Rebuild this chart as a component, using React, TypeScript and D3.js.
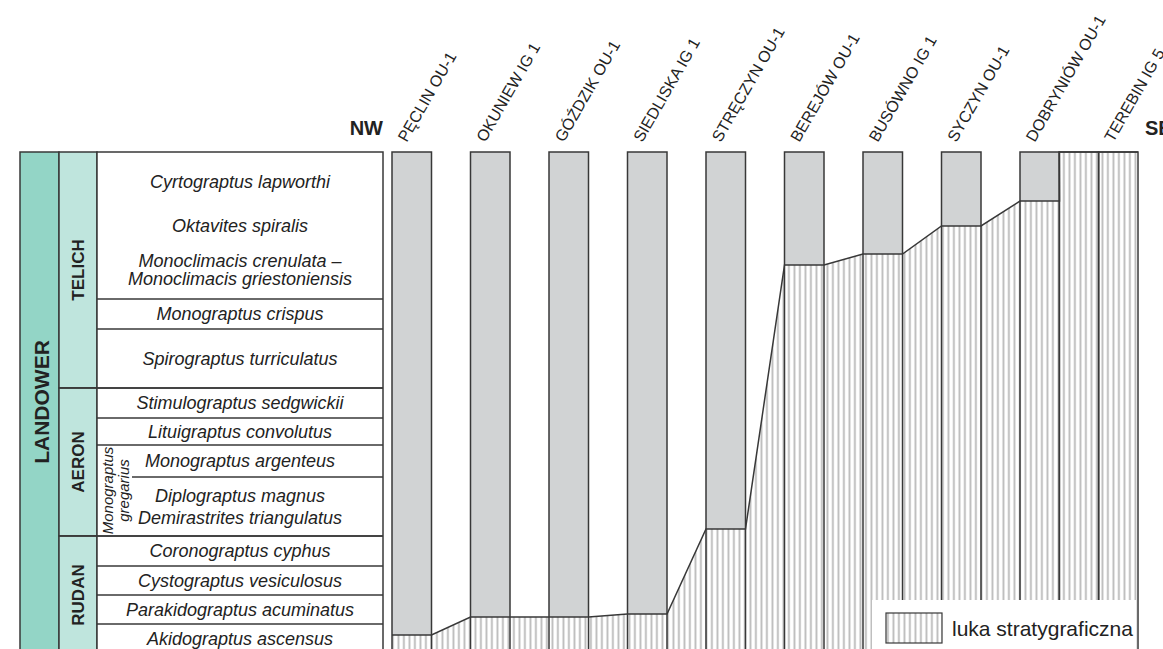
import React from "react";
import * as d3 from "d3";

// ---- data ----
const wellNames = [
  "PĘCLIN OU-1",
  "OKUNIEW IG 1",
  "GÓŹDZIK OU-1",
  "SIEDLISKA IG 1",
  "STRĘCZYN OU-1",
  "BEREJÓW OU-1",
  "BUSÓWNO IG 1",
  "SYCZYN OU-1",
  "DOBRYNIÓW OU-1",
  "",
  "TEREBIN IG 5",
];
// stratigraphic level (from top of Telich) where the hiatus begins in each well
const hiatusTop = [483, 465, 465, 462, 377, 113, 102, 74, 49, 0, 0];

const zoneNames = [
  ["Cyrtograptus lapworthi"],
  ["Oktavites spiralis"],
  ["Monoclimacis crenulata –", "Monoclimacis griestoniensis"],
  ["Monograptus crispus"],
  ["Spirograptus turriculatus"],
  ["Stimulograptus sedgwickii"],
  ["Lituigraptus convolutus"],
  ["Monograptus argenteus"],
  ["Diplograptus magnus", "Demirastrites triangulatus"],
  ["Coronograptus cyphus"],
  ["Cystograptus vesiculosus"],
  ["Parakidograptus acuminatus"],
  ["Akidograptus ascensus"],
];
const zoneTops = [0, 60, 88, 147, 177, 236, 266, 293, 325, 384, 414, 443, 472];
const sectionBase = 502;
const stageNames = ["TELICH", "AERON", "RUDAN"];
const stageTops = [0, 236, 384];
const seriesName = "LANDOWER";
const gregariusLines = ["Monograptus", "gregarius"];
const gregariusRange = [293, 384];
const legendLabel = "luka stratygraficzna";

// ---- layout ----
const W = 1163;
const H = 649;
const FONT = "'Liberation Sans', Arial, Helvetica, sans-serif";
const INK = "#383838";
const GREY = "#d1d3d4";
const SERIES_FILL = "#93d5c6";
const STAGE_FILL = "#bfe5dd";
const slot = [0, 1, 2, 3, 4, 5, 6, 7, 8, 8.5, 9];
const hiddenBoundaries = new Set([1, 2]);
const lineGap: Record<number, number> = { 2: 18, 8: 22 };

export default function App() {
  const y = d3.scaleLinear().domain([0, sectionBase]).range([152, 654]);
  const x = d3.scaleLinear().domain([0, 9]).range([392, 1098.5]);
  const colW = 39.5;
  const xSeries = [20, 59];
  const xStage = [59, 97];
  const xZone = [97, 383];
  const zoneCx = 240;

  const bottom = y(sectionBase);
  const cols = wellNames.map((name, i) => ({
    name,
    x0: x(slot[i]),
    x1: x(slot[i]) + colW,
    gapY: y(hiatusTop[i]),
  }));

  // boundary polyline of hiatus
  const pts: [number, number][] = [];
  cols.forEach((c) => {
    pts.push([c.x0, c.gapY]);
    pts.push([c.x1, c.gapY]);
  });
  const line = d3.line();
  const area = d3
    .area()
    .x((d) => d[0])
    .y0(bottom + 10)
    .y1((d) => d[1]);

  const zoneBottoms = zoneTops.map((t, i) =>
    i < zoneTops.length - 1 ? zoneTops[i + 1] : sectionBase
  );
  const stageBottoms = stageTops.map((t, i) =>
    i < stageTops.length - 1 ? stageTops[i + 1] : sectionBase
  );

  const gregCy = (y(gregariusRange[0]) + y(gregariusRange[1])) / 2;

  return (
    <svg
      width={W}
      height={H}
      style={{ position: "absolute", left: 0, top: 0, background: "#fff" }}
      fontFamily={FONT}
    >
      <defs>
        <pattern
          id="hatch"
          patternUnits="userSpaceOnUse"
          width={5.5}
          height={10}
        >
          <rect x={0} y={0} width={5.5} height={10} fill="#fff" />
          <rect x={1.5} y={0} width={1.8} height={10} fill="#b9b9b9" />
        </pattern>
      </defs>

      {/* Series column */}
      <rect
        x={xSeries[0]}
        y={y(0)}
        width={xSeries[1] - xSeries[0]}
        height={bottom - y(0)}
        fill={SERIES_FILL}
        stroke={INK}
        strokeWidth={1.5}
      />
      <text
        transform={`translate(49,402) rotate(-90)`}
        textAnchor="middle"
        fontWeight="bold"
        fontSize={21}
        fill="#222"
      >
        {seriesName}
      </text>

      {/* Stage column */}
      {stageNames.map((s, i) => {
        const y0 = y(stageTops[i]);
        const y1 = y(stageBottoms[i]);
        return (
          <g key={s}>
            <rect
              x={xStage[0]}
              y={y0}
              width={xStage[1] - xStage[0]}
              height={y1 - y0}
              fill={STAGE_FILL}
              stroke={INK}
              strokeWidth={1.5}
            />
            <text
              transform={`translate(84,${(y0 + y1) / 2}) rotate(-90)`}
              textAnchor="middle"
              fontWeight="bold"
              fontSize={17}
              fill="#222"
            >
              {s}
            </text>
          </g>
        );
      })}

      {/* Zone column */}
      <rect
        x={xZone[0]}
        y={y(0)}
        width={xZone[1] - xZone[0]}
        height={bottom - y(0)}
        fill="#fff"
        stroke={INK}
        strokeWidth={1.5}
      />
      {zoneTops.map((t, i) => {
        if (i === 0 || hiddenBoundaries.has(i)) return null;
        const startX = zoneTops[i] === gregariusRange[0] + 32 ? 132 : xZone[0];
        return (
          <line
            key={"zl" + i}
            x1={startX}
            x2={xZone[1]}
            y1={y(t)}
            y2={y(t)}
            stroke={INK}
            strokeWidth={1.5}
          />
        );
      })}
      {stageTops.slice(1).map((t, i) => (
        <line
          key={"sl" + i}
          x1={xStage[0]}
          x2={xZone[1]}
          y1={y(t)}
          y2={y(t)}
          stroke={INK}
          strokeWidth={1.5}
        />
      ))}
      {zoneNames.map((lines, i) => {
        const cy = (y(zoneTops[i]) + y(zoneBottoms[i])) / 2;
        const gap = lineGap[i] ?? 19;
        return lines.map((l, j) => (
          <text
            key={"zt" + i + "_" + j}
            x={zoneCx}
            y={cy + (j - (lines.length - 1) / 2) * gap + 6.3}
            textAnchor="middle"
            fontStyle="italic"
            fontSize={18}
            fill="#222"
          >
            {l}
          </text>
        ));
      })}
      {gregariusLines.map((l, j) => (
        <text
          key={"greg" + j}
          transform={`translate(${112.5 + j * 16},${gregCy}) rotate(-90)`}
          textAnchor="middle"
          fontStyle="italic"
          fontSize={15}
          fill="#222"
        >
          {l}
        </text>
      ))}

      {/* hatched hiatus area */}
      <path
        d={area([[cols[0].x0, pts[0][1]], ...pts, [cols[cols.length - 1].x1, y(0)]]) || ""}
        fill="url(#hatch)"
      />

      {/* grey well columns */}
      {cols.map((c, i) =>
        c.gapY > y(0) ? (
          <rect
            key={"g" + i}
            x={c.x0}
            y={y(0)}
            width={colW}
            height={c.gapY - y(0)}
            fill={GREY}
          />
        ) : null
      )}
      {cols.map((c, i) => (
        <rect
          key={"o" + i}
          x={c.x0}
          y={y(0)}
          width={colW}
          height={bottom - y(0)}
          fill="none"
          stroke={INK}
          strokeWidth={1.5}
        />
      ))}
      <path d={line(pts) || ""} fill="none" stroke={INK} strokeWidth={1.5} />

      {/* well names */}
      {cols.map((c, i) =>
        c.name ? (
          <text
            key={"n" + i}
            transform={`translate(${(c.x0 + c.x1) / 2 - 5},143) rotate(-60)`}
            fontSize={16}
            fill="#222"
          >
            {c.name}
          </text>
        ) : null
      )}

      <text x={383} y={135} textAnchor="end" fontWeight="bold" fontSize={20} fill="#222">
        NW
      </text>
      <text x={1145} y={135} fontWeight="bold" fontSize={20} fill="#222">
        SE
      </text>

      {/* legend */}
      <rect x={872} y={600} width={264} height={60} fill="#fff" />
      <rect
        x={886}
        y={613}
        width={56}
        height={30}
        fill="url(#hatch)"
        stroke={INK}
        strokeWidth={1.2}
      />
      <text x={952} y={636} fontSize={21} fill="#222">
        {legendLabel}
      </text>
    </svg>
  );
}
